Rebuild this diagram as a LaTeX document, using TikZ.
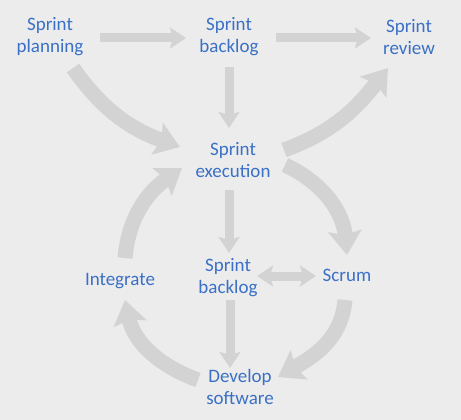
\documentclass[tikz,border=0pt]{standalone}
\usepackage{fontspec}
\setmainfont{Carlito}
\usetikzlibrary{arrows.meta,calc}
\definecolor{bgc}{HTML}{ECECEC}
\definecolor{arrc}{HTML}{D3D3D3}
\definecolor{txtc}{HTML}{3A70C6}
\begin{document}
\begin{tikzpicture}[x=1pt,y=1pt,
  lbl/.style={text=txtc,font=\fontsize{19}{22}\selectfont,align=center,inner sep=0pt},
  thinarr/.style={draw=arrc,line width=9pt,-{Stealth[length=16pt,width=21pt,inset=3pt]}},
  thinarrb/.style={draw=arrc,line width=9pt,{Stealth[length=16pt,width=21pt,inset=3pt]}-{Stealth[length=16pt,width=21pt,inset=3pt]}},
  thickarr/.style={draw=arrc,line width=15pt,-{Stealth[length=24pt,width=33pt,inset=4pt]}}]
\fill[bgc] (0,0) rectangle (461,-420);
\useasboundingbox (0,0) rectangle (461,-420);
\node[lbl] (plan) at (50,-37) {Sprint\\planning};
\node[lbl] (back1) at (229,-37) {Sprint\\backlog};
\node[lbl] (rev) at (409,-37) {Sprint\\review};
\node[lbl] (exec) at (233,-160) {Sprint\\execution};
\node[lbl] (back2) at (228,-278) {Sprint\\backlog};
\node[lbl] (scrum) at (347,-275) {Scrum};
\node[lbl] (integ) at (120,-281) {Integrate};
\node[lbl] (dev) at (240,-387) {Develop\\software};
% straight arrows
\draw[thinarr] ($(plan)+(50,-1)$) -- ($(back1)+(-43,-1)$);
\draw[thinarr] ($(back1)+(47,-1)$) -- ($(rev)+(-38,-1)$);
\draw[thinarr] ($(back1)+(0,-30)$) -- ($(exec)+(-4,32)$);
\draw[thinarr] ($(exec)+(-4,-30)$) -- ($(back2)+(1,25)$);
\draw[thinarrb] ($(back2)+(29,2)$) -- ($(scrum)+(-31,-1)$);
\draw[thinarr] ($(back2)+(2,-22)$) -- ($(dev)+(-10,19)$);
% curved arrows
\draw[thickarr] ($(plan)+(23,-31)$) to[out=-55,in=160] ($(exec)+(-53,13)$);
\draw[thickarr] ($(exec)+(51,10)$) to[out=20,in=232] ($(rev)+(-21,-31)$);
\draw[thickarr] ($(integ)+(5,23)$) to[out=85,in=215] ($(exec)+(-51,-8)$);
\draw[thickarr] ($(exec)+(52,-5)$) to[out=-25,in=95] ($(scrum)+(0,20)$);
\draw[thickarr] ($(scrum)+(-2,-25)$) to[out=-95,in=30] ($(dev)+(38,10)$);
\draw[thickarr] ($(dev)+(-42,7)$) to[out=160,in=-78] ($(integ)+(5,-19)$);
\end{tikzpicture}
\end{document}
